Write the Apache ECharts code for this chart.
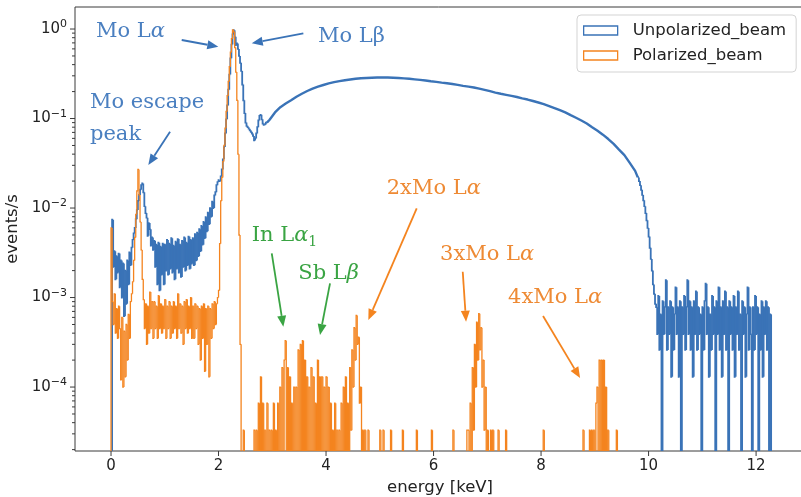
<!DOCTYPE html>
<html>
<head>
<meta charset="utf-8">
<script src="https://cdn.jsdelivr.net/npm/echarts@6/dist/echarts.min.js"></script>
<style>
html,body{margin:0;padding:0;background:#ffffff;}
#chart{width:801px;height:497px;}
</style>
</head>
<body>
<div id="chart"></div>
<script>
// ================= DATA (energy in keV, rate in events/s) =================
const fineBin = 0.02;     // keV, histogram bin width of the fine segments
const coarseBin = 0.1;    // keV, bin width of the smooth continuum segment

// ---- Unpolarized beam ----
const unpolLowStart = 0.0;   // 0.00 - 2.00 keV
const unpolLow = [
  0, 7.4e-3, 2.2e-3, 3.3e-3, 1.6e-3, 2.9e-3, 1.9e-3, 3.1e-3, 1.3e-3, 2.6e-3,
  1.0e-3, 2.4e-3, 6.2e-4, 2.0e-3, 8.5e-4, 2.6e-3, 1.4e-3, 3.2e-3, 2.3e-3, 3.6e-3,
  4.4e-3, 5.2e-3, 6.0e-3, 7.5e-3, 9.5e-3, 1.2e-2, 1.4e-2, 1.6e-2, 1.8e-2, 1.88e-2,
  1.5e-2, 1.05e-2, 8.8e-3, 7.8e-3, 4.9e-3, 6.8e-3, 5.8e-3, 3.8e-3, 4.7e-3, 3.4e-3,
  4.3e-3, 2.2e-3, 3.9e-3, 1.4e-3, 4.1e-3, 1.2e-3, 3.7e-3, 1.8e-3, 4.0e-3, 1.4e-3,
  3.9e-3, 2.0e-3, 4.4e-3, 1.8e-3, 4.0e-3, 2.1e-3, 4.6e-3, 1.9e-3, 3.8e-3, 1.6e-3,
  4.2e-3, 2.1e-3, 4.5e-3, 1.9e-3, 3.9e-3, 1.7e-3, 4.3e-3, 2.2e-3, 4.7e-3, 2.0e-3,
  4.1e-3, 2.3e-3, 4.8e-3, 2.1e-3, 4.4e-3, 2.4e-3, 4.6e-3, 2.3e-3, 5.1e-3, 2.6e-3,
  5.3e-3, 2.9e-3, 5.8e-3, 3.3e-3, 6.3e-3, 3.9e-3, 7.0e-3, 4.6e-3, 7.9e-3, 5.5e-3,
  8.9e-3, 6.6e-3, 1.0e-2, 8.0e-3, 1.18e-2, 1.0e-2, 1.38e-2, 1.5e-2, 1.8e-2, 1.95e-2
];
const unpolPeakStart = 2.0;  // 2.00 - 2.90 keV
const unpolPeak = [
  0.0205, 0.020, 0.0225, 0.027, 0.035, 0.048, 0.068, 0.098, 0.14, 0.21,
  0.31, 0.47, 0.67, 0.87, 0.97, 0.82, 0.66, 0.69, 0.60, 0.50,
  0.42, 0.34, 0.24, 0.16, 0.115, 0.090, 0.083, 0.080, 0.077, 0.074,
  0.071, 0.068, 0.064, 0.057, 0.060, 0.068, 0.080, 0.095, 0.107, 0.110,
  0.098, 0.088, 0.085, 0.086, 0.090
];
const unpolContStart = 2.9;  // 2.9 - 9.8 keV (0.1 keV bins)
const unpolCont = [
  0.097, 0.117, 0.134, 0.147, 0.160, 0.175, 0.189, 0.203, 0.216, 0.227,
  0.237, 0.247, 0.255, 0.262, 0.268, 0.273, 0.278, 0.282, 0.284, 0.286,
  0.287, 0.288, 0.287, 0.286, 0.284, 0.281, 0.278, 0.274, 0.270, 0.266,
  0.261, 0.257, 0.252, 0.248, 0.243, 0.238, 0.232, 0.227, 0.222, 0.216,
  0.209, 0.202, 0.195, 0.189, 0.184, 0.179, 0.174, 0.168, 0.163, 0.157,
  0.151, 0.145, 0.138, 0.131, 0.124, 0.117, 0.109, 0.102, 0.095, 0.088,
  0.080, 0.073, 0.066, 0.059, 0.052, 0.045, 0.039, 0.032, 0.026
];
const unpolEdgeStart = 9.8;  // 9.80 - 10.14 keV
const unpolEdge = [
  0.022, 0.020, 0.018, 0.016, 0.014, 0.0122, 0.0105, 0.0088, 0.0073, 0.0060,
  0.0048, 0.0036, 0.0027, 0.0020, 0.0014, 0.0011, 0.00085
];
const unpolTailStart = 10.14; // 10.14 - 12.28 keV
const unpolTail = [
  7.8e-4, 3.9e-4, 1.04e-3, 2.6e-4, 6.5e-4, 0, 9.1e-4, 3.9e-4, 7.8e-4, 1.56e-3,
  2.6e-4, 7.8e-4, 3.9e-4, 9.1e-4, 1.3e-4, 7.8e-4, 2.6e-4, 6.5e-4, 1.3e-3, 3.9e-4,
  7.8e-4, 1.3e-4, 9.1e-4, 0, 7.8e-4, 3.9e-4, 1.04e-3, 2.6e-4, 7.8e-4, 1.56e-3,
  3.9e-4, 9.1e-4, 2.6e-4, 7.8e-4, 1.3e-4, 9.1e-4, 3.9e-4, 1.17e-3, 2.6e-4, 7.8e-4,
  3.9e-4, 6.5e-4, 0, 7.8e-4, 2.6e-4, 9.1e-4, 1.43e-3, 3.9e-4, 7.8e-4, 1.3e-4,
  6.5e-4, 2.6e-4, 1.04e-3, 3.9e-4, 7.8e-4, 0, 9.1e-4, 3.9e-4, 1.3e-3, 2.6e-4,
  7.8e-4, 1.3e-4, 9.1e-4, 3.9e-4, 1.17e-3, 2.6e-4, 7.8e-4, 0, 9.1e-4, 3.9e-4,
  7.8e-4, 2.6e-4, 1.04e-3, 1.3e-4, 7.8e-4, 3.9e-4, 1.17e-3, 2.6e-4, 6.5e-4, 0,
  9.1e-4, 3.9e-4, 7.8e-4, 1.3e-4, 6.5e-4, 1.3e-3, 2.6e-4, 7.8e-4, 3.9e-4, 0,
  7.8e-4, 2.6e-4, 1.04e-3, 3.9e-4, 7.8e-4, 0, 6.5e-4, 2.6e-4, 9.1e-4, 1.3e-4,
  7.8e-4, 3.9e-4, 9.1e-4, 2.6e-4, 7.8e-4, 0, 6.5e-4
];

// ---- Polarized beam ----
const polLowStart = 0.0;     // 0.00 - 2.00 keV
const polLow = [
  6.0e-3, 9.0e-4, 5.0e-4, 1.1e-3, 4.0e-4, 7.5e-4, 3.5e-4, 8.0e-4, 4.5e-4, 1.2e-4,
  6.0e-4, 1.0e-4, 4.2e-4, 1.3e-4, 5.0e-4, 2.0e-4, 6.5e-4, 3.5e-4, 9.0e-4, 1.1e-3,
  1.5e-3, 2.6e-3, 4.7e-3, 8.5e-3, 1.55e-2, 2.7e-2, 1.4e-2, 7.0e-3, 3.4e-3, 1.6e-3,
  9.5e-4, 4.5e-4, 8.5e-4, 3.0e-4, 8.0e-4, 4.0e-4, 1.15e-3, 4.5e-4, 9.0e-4, 3.5e-4,
  9.0e-4, 4.5e-4, 8.0e-4, 3.5e-4, 1.05e-3, 4.5e-4, 8.5e-4, 4.0e-4, 8.0e-4, 4.5e-4,
  9.5e-4, 3.5e-4, 8.0e-4, 4.5e-4, 9.0e-4, 3.5e-4, 8.0e-4, 4.0e-4, 9.0e-4, 4.5e-4,
  8.0e-4, 3.5e-4, 1.1e-3, 4.5e-4, 8.5e-4, 4.0e-4, 8.0e-4, 3.0e-4, 9.0e-4, 4.5e-4,
  9.5e-4, 4.0e-4, 8.0e-4, 4.5e-4, 1.0e-3, 3.5e-4, 8.0e-4, 3.5e-4, 8.5e-4, 4.5e-4,
  8.0e-4, 3.0e-4, 7.5e-4, 2.0e-4, 8.0e-4, 3.5e-4, 8.5e-4, 1.5e-4, 7.5e-4, 3.0e-4,
  8.0e-4, 1.3e-4, 7.5e-4, 3.5e-4, 8.5e-4, 4.5e-4, 9.0e-4, 5.0e-4, 8.5e-4, 1.0e-3
];
const polPeakStart = 2.0;    // 2.00 - 2.44 keV
const polPeak = [
  1.2e-3, 4.0e-3, 0.012, 0.022, 0.033, 0.050, 0.078, 0.12, 0.18, 0.26,
  0.38, 0.55, 0.78, 0.98, 0.93, 0.62, 0.33, 0.16, 0.04, 5.0e-3,
  3.0e-4, 0
];
const polSparseStart = 2.44; // 2.44 - 9.44 keV
const polSparse = [
  0, 3.3e-5, 0, 0, 0, 0, 0, 0, 0, 0,
  0, 3.3e-5, 0, 3.3e-5, 0, 6.6e-5, 0, 1.3e-4, 0, 6.6e-5,
  0, 3.3e-5, 0, 6.6e-5, 0, 3.3e-5, 0, 3.3e-5, 0, 6.6e-5,
  0, 3.3e-5, 0, 6.6e-5, 0, 1.0e-4, 0, 1.65e-4, 0, 2.0e-4,
  3.3e-4, 0, 1.65e-4, 0, 1.3e-4, 0, 6.6e-5, 0, 1.0e-4, 0,
  1.0e-4, 0, 2.6e-4, 0, 3.0e-4, 0, 3.3e-4, 0, 2.0e-4, 0,
  1.3e-4, 0, 1.0e-4, 0, 1.65e-4, 0, 1.3e-4, 0, 6.6e-5, 0,
  2.0e-4, 0, 1.3e-4, 0, 1.3e-4, 0, 1.0e-4, 0, 1.3e-4, 0,
  1.0e-4, 0, 6.6e-5, 0, 3.3e-5, 0, 6.6e-5, 0, 3.3e-5, 0,
  3.3e-5, 0, 6.6e-5, 0, 1.0e-4, 0, 1.3e-4, 0, 6.6e-5, 0,
  1.65e-4, 3.3e-5, 2.6e-4, 1.0e-4, 4.6e-4, 2.0e-4, 6.3e-4, 3.0e-4, 3.6e-4, 6.6e-5,
  1.0e-4, 0, 3.3e-5, 0, 3.3e-5, 0, 0, 3.3e-5, 0, 0,
  0, 0, 0, 0, 0, 0, 0, 0, 3.3e-5, 0,
  0, 3.3e-5, 0, 0, 0, 0, 0, 0, 3.3e-5, 0,
  0, 0, 0, 0, 0, 0, 0, 0, 0, 3.3e-5,
  0, 0, 0, 0, 0, 0, 0, 0, 0, 0,
  0, 0, 3.3e-5, 0, 0, 0, 0, 0, 0, 0,
  0, 0, 0, 0, 0, 0, 3.3e-5, 0, 0, 0,
  0, 0, 0, 0, 0, 0, 0, 0, 0, 0,
  0, 0, 0, 0, 0, 0, 3.3e-5, 0, 0, 0,
  0, 0, 0, 0, 0, 0, 0, 0, 0, 3.3e-5,
  3.3e-5, 0, 6.6e-5, 0, 1.65e-4, 3.3e-5, 3.0e-4, 1.0e-4, 5.3e-4, 2.0e-4,
  6.6e-4, 2.6e-4, 4.6e-4, 1.0e-4, 2.0e-4, 3.3e-5, 1.0e-4, 0, 3.3e-5, 0,
  0, 3.3e-5, 0, 3.3e-5, 0, 0, 0, 0, 3.3e-5, 0,
  0, 0, 0, 0, 0, 3.3e-5, 0, 0, 0, 0,
  0, 0, 0, 0, 0, 0, 0, 0, 0, 0,
  0, 0, 0, 0, 0, 0, 0, 0, 0, 0,
  0, 0, 0, 0, 0, 0, 0, 0, 0, 0,
  3.3e-5, 0, 0, 0, 0, 0, 0, 0, 0, 0,
  0, 0, 0, 0, 0, 0, 0, 0, 0, 0,
  0, 0, 0, 0, 0, 0, 0, 0, 0, 0,
  0, 0, 0, 0, 0, 0, 0, 3.3e-5, 0, 0,
  0, 0, 0, 3.3e-5, 0, 3.3e-5, 0, 3.3e-5, 0, 6.6e-5,
  1.0e-4, 0, 2.0e-4, 0, 2.0e-4, 0, 2.0e-4, 0, 1.0e-4, 0,
  3.3e-5, 0, 0, 0, 0, 0, 0, 0, 3.3e-5, 0
];

// ---- axis ticks ----
const xMajorTicks = [0, 2, 4, 6, 8, 10, 12];
const yMajorTicks = [1e-4, 1e-3, 1e-2, 1e-1, 1];
const yMinorTicks = [
  2e-5, 3e-5, 4e-5, 5e-5, 6e-5, 7e-5, 8e-5, 9e-5,
  2e-4, 3e-4, 4e-4, 5e-4, 6e-4, 7e-4, 8e-4, 9e-4,
  2e-3, 3e-3, 4e-3, 5e-3, 6e-3, 7e-3, 8e-3, 9e-3,
  2e-2, 3e-2, 4e-2, 5e-2, 6e-2, 7e-2, 8e-2, 9e-2,
  2e-1, 3e-1, 4e-1, 5e-1, 6e-1, 7e-1, 8e-1, 9e-1
];
const seriesNames = ['Unpolarized_beam', 'Polarized_beam'];

// ================= CHART =================
const BLUE = '#3a73b7';
const ORANGE = '#f4841f';
const GREEN = '#3aa443';
const BLUE_TXT = '#4a7fc0';
const ORANGE_TXT = '#ee8a34';
const X_MIN = -0.67, X_MAX = 12.91;
const Y_MIN = 1.93e-5, Y_MAX = 1.762;
const FLOOR = 1e-9; // empty bins drop below the axis (log scale)

// histogram bins -> step items [left edge, right edge, value, previous value]
function binsOf(start, width, values) {
  return values.map(function (v, i) {
    return [Math.round((start + width * i) * 1e4) / 1e4, Math.round((start + width * (i + 1)) * 1e4) / 1e4, v > 0 ? v : FLOOR];
  });
}
function stepItems(bins, closeEnd) {
  const out = [];
  let prev = FLOOR;
  bins.forEach(function (b, i) {
    if (i > 0) prev = bins[i - 1][2];
    out.push([b[0], b[1], b[2], i === 0 ? (bins._prev || FLOOR) : prev]);
  });
  if (closeEnd) {
    const last = bins[bins.length - 1];
    out.push([last[1], last[1], FLOOR, last[2]]);
  }
  return out;
}
const unpolLowBins = binsOf(unpolLowStart, fineBin, unpolLow).concat(binsOf(unpolPeakStart, fineBin, unpolPeak));
const unpolHighBins = binsOf(unpolEdgeStart, fineBin, unpolEdge).concat(binsOf(unpolTailStart, fineBin, unpolTail));
const polBins = binsOf(polLowStart, fineBin, polLow).concat(
  binsOf(polPeakStart, fineBin, polPeak), binsOf(polSparseStart, fineBin, polSparse));

// the smooth continuum joins the end of the low part and the start of the high part
const lastLow = unpolLowBins[unpolLowBins.length - 1];
const firstHigh = unpolHighBins[0];
const unpolSmooth = [[lastLow[1], lastLow[2]]]
  .concat(unpolCont.map(function (v, i) { return [Math.round((unpolContStart + coarseBin * (i + 0.5)) * 1e4) / 1e4, v]; }))
  .concat([[firstHigh[0], firstHigh[2]]]);
const unpolStepLow = stepItems(unpolLowBins, false);
unpolHighBins._prev = firstHigh[2];
const unpolStepHigh = stepItems(unpolHighBins, true);
const polStep = stepItems(polBins, true);

const FONT = 'DejaVu Sans';
const TXT = '#222222';
const FRAME = '#3a3a3a';

const chart = echarts.init(document.getElementById('chart'), null, { renderer: 'canvas' });

function yLabel(v) {
  const l = Math.log10(v), e = Math.round(l);
  if (Math.abs(l - e) > 1e-6) return '';
  return '{b|10}{s|' + (e < 0 ? '\u2212' : '') + Math.abs(e) + '}';
}
function stepSeries(name, data, color, width, z) {
  return {
    type: 'custom', name: name, coordinateSystem: 'cartesian2d', silent: true, clip: true,
    progressive: 0, z: z, data: data, encode: { x: [0, 1], y: [2, 3] },
    itemStyle: { color: color },
    renderItem: function (params, api) {
      const cs = params.coordSys, bottom = cs.y + cs.height;
      const l = api.value(0), r = api.value(1), v = api.value(2), pv = api.value(3);
      const a = api.coord([l, pv]), b = api.coord([l, v]), c = api.coord([r, v]);
      const ya = Math.min(a[1], bottom + 2), yb = Math.min(b[1], bottom + 2);
      return {
        type: 'polyline',
        shape: { points: [[a[0], ya], [b[0], yb], [c[0], yb]] },
        style: { stroke: color, lineWidth: width, fill: null, lineJoin: 'miter' }
      };
    }
  };
}

chart.setOption({
  animation: false,
  backgroundColor: '#ffffff',
  grid: {
    left: 75, top: 7, width: 730, height: 444,
    show: true, borderColor: FRAME, borderWidth: 1, backgroundColor: 'transparent',
    containLabel: false, outerBoundsMode: 'none'
  },
  legend: {
    left: 577, top: 15, orient: 'vertical',
    padding: [7, 10, 8, 6], itemGap: 8, itemWidth: 34, itemHeight: 9,
    backgroundColor: 'rgba(255,255,255,0.85)', borderColor: '#d3d3d3', borderWidth: 1, borderRadius: 4,
    selectedMode: false,
    formatter: function (name) { return '{g|}' + name; },
    textStyle: { fontSize: 16.5, fontFamily: FONT, color: TXT, lineHeight: 17, rich: { g: { width: 10 } } },
    data: [
      { name: seriesNames[0], icon: 'rect', itemStyle: { color: 'rgba(255,255,255,0)', borderColor: BLUE, borderWidth: 1.3 } },
      { name: seriesNames[1], icon: 'rect', itemStyle: { color: 'rgba(255,255,255,0)', borderColor: ORANGE, borderWidth: 1.3 } }
    ]
  },
  xAxis: {
    type: 'value', min: X_MIN, max: X_MAX, minInterval: 2, maxInterval: 2,
    axisLine: { show: false }, axisTick: { show: false }, splitLine: { show: false },
    axisLabel: {
      margin: 8, fontSize: 15, fontFamily: FONT, color: TXT,
      formatter: function (v) { return Math.abs(v / 2 - Math.round(v / 2)) < 1e-9 ? String(Math.round(v)) : ''; }
    },
    name: 'energy [keV]', nameLocation: 'middle', nameGap: 23,
    nameTextStyle: { fontSize: 16.5, fontFamily: FONT, color: TXT }
  },
  yAxis: {
    type: 'log', logBase: 10, min: Y_MIN, max: Y_MAX,
    axisLine: { show: false }, axisTick: { show: false }, splitLine: { show: false },
    axisLabel: {
      margin: 8, formatter: yLabel,
      rich: {
        b: { fontSize: 15, fontFamily: FONT, color: TXT, lineHeight: 20 },
        s: { fontSize: 11, fontFamily: FONT, color: TXT, verticalAlign: 'top' }
      }
    },
    name: 'events/s', nameLocation: 'middle', nameGap: 53,
    nameTextStyle: { fontSize: 16.5, fontFamily: FONT, color: TXT }
  },
  series: [
    stepSeries(seriesNames[0], unpolStepLow, BLUE, 1.8, 2),
    {
      type: 'line', name: seriesNames[0], data: unpolSmooth,
      showSymbol: false, symbol: 'none', clip: true, silent: true, z: 2,
      lineStyle: { color: BLUE, width: 2.4 }, itemStyle: { color: BLUE }
    },
    stepSeries(seriesNames[0], unpolStepHigh, BLUE, 1.8, 2),
    stepSeries(seriesNames[1], polStep, ORANGE, 1.3, 3),
    {
      type: 'custom', coordinateSystem: 'cartesian2d', silent: true, clip: false, z: 10,
      data: yMajorTicks.map(function (v) { return [X_MIN, v, 5]; })
        .concat(yMinorTicks.map(function (v) { return [X_MIN, v, 3]; })),
      renderItem: function (params, api) {
        const p = api.coord([api.value(0), api.value(1)]);
        const len = api.value(2);
        return { type: 'line', shape: { x1: p[0] - len, y1: p[1], x2: p[0], y2: p[1] },
                 style: { stroke: FRAME, lineWidth: 1 } };
      }
    },
    {
      type: 'custom', coordinateSystem: 'cartesian2d', silent: true, clip: false, z: 10,
      data: xMajorTicks.map(function (v) { return [v, Y_MIN, 5]; }),
      renderItem: function (params, api) {
        const p = api.coord([api.value(0), api.value(1)]);
        const len = api.value(2);
        return { type: 'line', shape: { x1: p[0], y1: p[1], x2: p[0], y2: p[1] + len },
                 style: { stroke: FRAME, lineWidth: 1 } };
      }
    }
  ]
});

// ---- annotations (anchored in data coordinates) ----
const SERIF = 'DejaVu Serif';
const RICH = {
  t: { fontFamily: SERIF, fontSize: 21, lineHeight: 28 },
  i: { fontFamily: SERIF, fontSize: 21, lineHeight: 28, fontStyle: 'italic' },
  s: { fontFamily: SERIF, fontSize: 14, verticalAlign: 'bottom' },
  m: { fontFamily: SERIF, fontSize: 21, lineHeight: 32 }
};
const annotationTexts = [
  { label: '{t|Mo L}{i|\u03b1}', at: [-0.279, 0.926], color: BLUE_TXT },
  { label: '{t|Mo L\u03b2}', at: [3.851, 0.82], color: BLUE_TXT },
  { label: '{m|Mo escape}\n{m|peak}', at: [-0.391, 0.0987], color: BLUE_TXT },
  { label: '{t|In L}{i|\u03b1}{s|1}', at: [2.618, 4.99e-3], color: GREEN },
  { label: '{t|Sb L}{i|\u03b2}', at: [3.485, 1.86e-3], color: GREEN },
  { label: '{t|2xMo L}{i|\u03b1}', at: [5.129, 0.0167], color: ORANGE_TXT },
  { label: '{t|3xMo L}{i|\u03b1}', at: [6.121, 3.06e-3], color: ORANGE_TXT },
  { label: '{t|4xMo L}{i|\u03b1}', at: [7.386, 1.01e-3], color: ORANGE_TXT }
];
const annotationArrows = [
  { from: [1.315, 0.754], to: [1.996, 0.634], color: BLUE },
  { from: [3.578, 0.895], to: [2.618, 0.692], color: BLUE },
  { from: [1.098, 0.0712], to: [0.694, 0.0302], color: BLUE },
  { from: [2.990, 3.12e-3], to: [3.206, 4.72e-4], color: GREEN },
  { from: [4.074, 1.44e-3], to: [3.888, 3.81e-4], color: GREEN },
  { from: [5.687, 9.93e-3], to: [4.787, 5.61e-4], color: ORANGE },
  { from: [6.543, 1.94e-3], to: [6.605, 5.37e-4], color: ORANGE },
  { from: [8.037, 6.21e-4], to: [8.726, 1.26e-4], color: ORANGE }
];

function px(pt) { return chart.convertToPixel({ gridIndex: 0 }, pt); }
const graphics = [];
annotationTexts.forEach(function (a) {
  const p = px(a.at);
  graphics.push({
    type: 'text', x: p[0], y: p[1], z: 100, silent: true,
    style: { text: a.label, rich: RICH, fill: a.color,
             textAlign: 'left', textVerticalAlign: 'middle', align: 'left', verticalAlign: 'middle' }
  });
});
annotationArrows.forEach(function (a) {
  const s = px(a.from), t = px(a.to);
  const dx = t[0] - s[0], dy = t[1] - s[1], L = Math.hypot(dx, dy);
  const ux = dx / L, uy = dy / L, hl = 11, hw = 4.5;
  const bx = t[0] - ux * hl, by = t[1] - uy * hl;
  graphics.push({
    type: 'line', z: 100, silent: true,
    shape: { x1: s[0], y1: s[1], x2: bx, y2: by },
    style: { stroke: a.color, lineWidth: 1.8 }
  });
  graphics.push({
    type: 'polygon', z: 100, silent: true,
    shape: { points: [[t[0], t[1]], [bx - uy * hw, by + ux * hw], [bx + uy * hw, by - ux * hw]] },
    style: { fill: a.color }
  });
});
chart.setOption({ graphic: graphics });
</script>
</body>
</html>
